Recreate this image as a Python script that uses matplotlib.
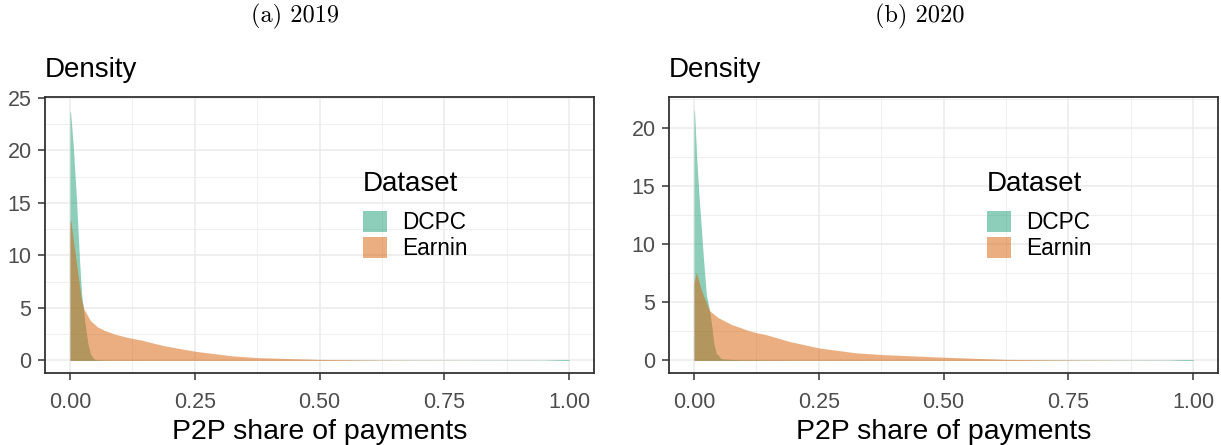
import numpy as np
import matplotlib
matplotlib.use('Agg')
import matplotlib.pyplot as plt
from matplotlib.patches import Patch
from matplotlib.ticker import MultipleLocator, FormatStrFormatter

plt.rcParams['font.family'] = ['Liberation Sans', 'DejaVu Sans']

# values
x_dcpc_2019 = [0.0, 0.001, 0.0067, 0.0127, 0.016, 0.0194, 0.0234, 0.0267, 0.0314, 0.036, 0.0414,
               0.048, 0.055, 0.07, 0.1, 0.2, 0.4, 0.6, 0.8, 0.95, 0.97, 0.99, 1.0]
y_dcpc_2019 = [23.6, 23.8, 20.4, 15.7, 12.6, 9.4, 6.3, 5.0, 3.1, 1.6, 0.6,
               0.15, 0.07, 0.04, 0.03, 0.02, 0.02, 0.02, 0.02, 0.03, 0.06, 0.08, 0.08]
x_earnin_2019 = [0.0, 0.0015, 0.008, 0.0127, 0.018, 0.0234, 0.028, 0.041, 0.055, 0.07, 0.09, 0.115,
                 0.142, 0.189, 0.25, 0.323, 0.375, 0.5, 0.625, 0.75, 0.875, 1.0]
y_earnin_2019 = [13.1, 13.4, 11.0, 9.4, 7.5, 5.7, 4.9, 3.8, 3.2, 2.85, 2.5, 2.2,
                 1.95, 1.4, 0.88, 0.45, 0.27, 0.1, 0.03, 0.01, 0.005, 0.0]

x_dcpc_2020 = [0.0, 0.001, 0.006, 0.010, 0.0147, 0.0194, 0.0247, 0.0314, 0.036, 0.040, 0.045,
               0.055, 0.07, 0.1, 0.2, 0.4, 0.6, 0.8, 0.95, 0.97, 0.99, 1.0]
y_dcpc_2020 = [21.4, 21.6, 17.1, 14.3, 11.4, 8.6, 5.7, 4.3, 2.9, 1.4, 0.6,
               0.15, 0.1, 0.06, 0.03, 0.02, 0.02, 0.02, 0.03, 0.06, 0.08, 0.08]
x_earnin_2020 = [0.0, 0.0047, 0.0094, 0.013, 0.018, 0.031, 0.048, 0.075, 0.108, 0.124, 0.142,
                 0.19, 0.25, 0.324, 0.376, 0.5, 0.627, 0.75, 0.875, 1.0]
y_earnin_2020 = [6.7, 7.57, 6.9, 6.3, 5.7, 4.3, 3.7, 3.1, 2.6, 2.4, 2.25,
                 1.65, 1.08, 0.66, 0.51, 0.28, 0.09, 0.04, 0.01, 0.0]

datasets = ['DCPC', 'Earnin']
colors = ['#1b9e77', '#d95f02']
x_ticks = [0.0, 0.25, 0.5, 0.75, 1.0]


def panel(ax, curves, ymax, ystep):
    ax.set_facecolor('white')
    for (x, y), c in zip(curves, colors):
        ax.fill_between(x, y, 0, color=c, alpha=0.5, linewidth=0, zorder=2)

    pad = ymax * 0.05
    ax.set_ylim(-pad, ymax + pad)
    ax.set_xlim(-0.05, 1.05)
    ax.set_xticks(x_ticks)
    ax.xaxis.set_major_formatter(FormatStrFormatter('%.2f'))
    ax.xaxis.set_minor_locator(MultipleLocator(0.125))
    ax.yaxis.set_major_locator(MultipleLocator(ystep))
    ax.yaxis.set_minor_locator(MultipleLocator(ystep / 2))
    ax.grid(which='major', color='#EBEBEB', linewidth=1.1, zorder=0)
    ax.grid(which='minor', color='#EBEBEB', linewidth=0.55, zorder=0)
    ax.set_axisbelow(True)
    ax.tick_params(which='major', length=5.2, width=1.1, color='#333333',
                   labelcolor='#4D4D4D', labelsize=15.5)
    ax.tick_params(axis='x', pad=8.5)
    ax.tick_params(axis='y', pad=4.5)
    ax.tick_params(which='minor', length=0)
    for s in ax.spines.values():
        s.set_color('#333333')
        s.set_linewidth(1.3)

    ax.text(0, 1.072, 'Density', transform=ax.transAxes, ha='left', va='baseline', fontsize=20)
    ax.set_xlabel('P2P share of payments', fontsize=20.5, labelpad=4.5)

    # legend title drawn on its own so the gap above the keys can be set
    ax.text(0.579, 0.659, 'Dataset', transform=ax.transAxes, ha='left', va='baseline', fontsize=20)
    handles = [Patch(facecolor=c, alpha=0.5, edgecolor='none') for c in colors]
    ax.legend(handles, datasets, loc='upper left',
              bbox_to_anchor=(0.579, 0.587), frameon=False, fontsize=16.3,
              handlelength=1.05, handleheight=1.05,
              handletextpad=0.68, labelspacing=0.12, borderpad=0, borderaxespad=0)


fig = plt.figure(figsize=(12.21, 4.45), dpi=100)
W, H = 1221, 445
ax1 = fig.add_axes([45 / W, 1 - 373 / H, 549 / W, 276 / H])
ax2 = fig.add_axes([669 / W, 1 - 373 / H, 549 / W, 276 / H])

panel(ax1, [(x_dcpc_2019, y_dcpc_2019), (x_earnin_2019, y_earnin_2019)], 23.9, 5)
panel(ax2, [(x_dcpc_2020, y_dcpc_2020), (x_earnin_2020, y_earnin_2020)], 21.6, 5)

fig.text(295 / W, 1 - 22 / H, '(a) 2019', ha='center', va='baseline', fontsize=17.5,
         family=['cmr10', 'DejaVu Serif'])
fig.text(920 / W, 1 - 22 / H, '(b) 2020', ha='center', va='baseline', fontsize=17.5,
         family=['cmr10', 'DejaVu Serif'])

fig.savefig('out.png', dpi=100)
